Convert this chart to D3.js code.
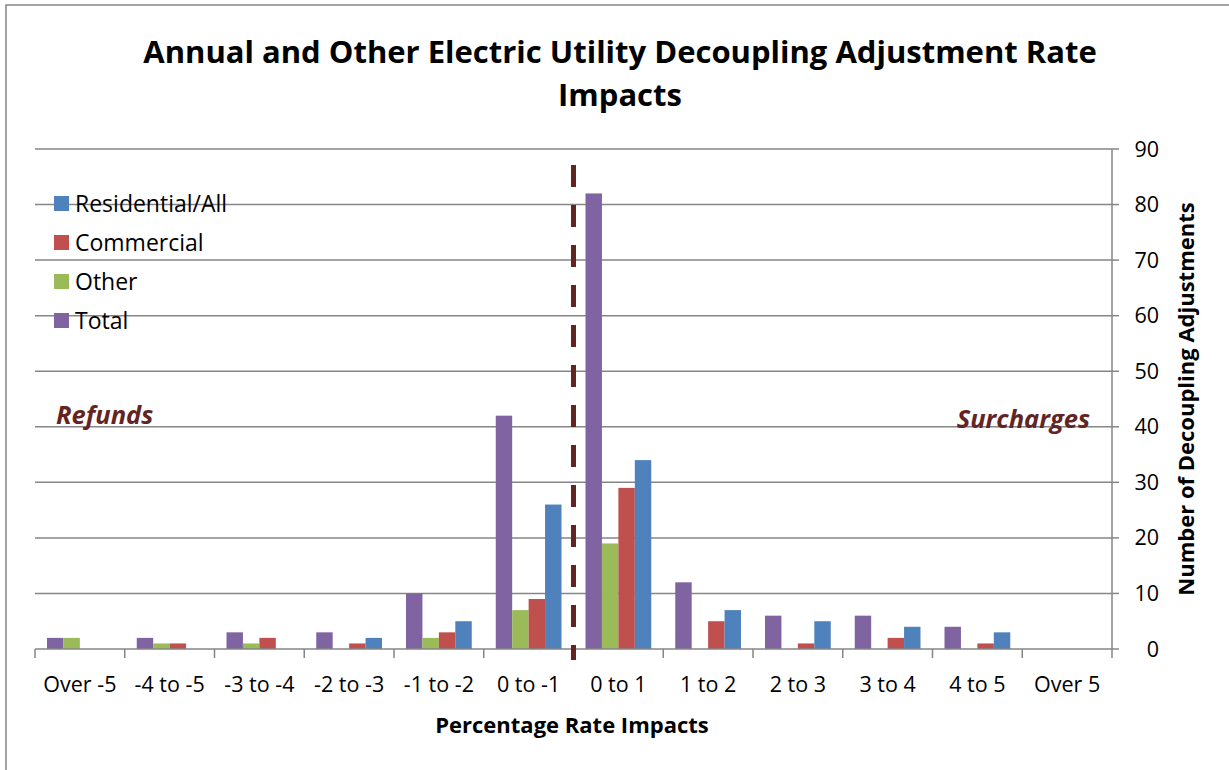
<!DOCTYPE html>
<html><head><meta charset="utf-8">
<script src="https://cdn.jsdelivr.net/npm/d3@7"></script>
<style>body{margin:0;background:#fff}svg{display:block}</style>
</head><body>
<script>
const categories = ["Over -5","-4 to -5","-3 to -4","-2 to -3","-1 to -2","0 to -1","0 to 1","1 to 2","2 to 3","3 to 4","4 to 5","Over 5"];
const totalVals = [2,2,3,3,10,42,82,12,6,6,4,0];
const otherVals = [2,1,1,0,2,7,19,0,0,0,0,0];
const commercialVals = [0,1,2,1,3,9,29,5,1,2,1,0];
const residentialVals = [0,0,0,2,5,26,34,7,5,4,3,0];
const yTicks = [0,10,20,30,40,50,60,70,80,90];
const legendNames = ["Residential/All","Commercial","Other","Total"];

const series = [
  {name:"Total", vals: totalVals, color:"#8064A2"},
  {name:"Other", vals: otherVals, color:"#9BBB59"},
  {name:"Commercial", vals: commercialVals, color:"#C0504D"},
  {name:"Residential/All", vals: residentialVals, color:"#4F81BD"}
];
const colorOf = {"Residential/All":"#4F81BD","Commercial":"#C0504D","Other":"#9BBB59","Total":"#8064A2"};

const W=1229,H=770;
const svg=d3.select("body").append("svg").attr("width",W).attr("height",H);
const font="'Open Sans', 'DejaVu Sans', sans-serif";
svg.append("rect").attr("x",6).attr("y",5).attr("width",W+10).attr("height",H+10).attr("fill","#fff").attr("stroke","#868686").attr("stroke-width",1.5);

const L=35,R=1112,T=149,B=649;
const x=d3.scaleBand().domain(categories).range([L,R]).paddingInner(0).paddingOuter(0);
const y=d3.scaleLinear().domain([0,90]).range([B,T]);
const inner=d3.scaleBand().domain(series.map(s=>s.name)).range([0,x.bandwidth()]).paddingOuter(0.73).paddingInner(0);

// gridlines
svg.append("g").selectAll("line").data(yTicks.filter(d=>d>0)).join("line")
  .attr("x1",L).attr("x2",R).attr("y1",d=>y(d)).attr("y2",d=>y(d))
  .attr("stroke","#868686").attr("stroke-width",1.5);

// bars
series.forEach(s=>{
  svg.append("g").selectAll("rect").data(categories).join("rect")
    .attr("x",(c)=>x(c)+inner(s.name))
    .attr("width",inner.bandwidth())
    .attr("y",(c,i)=>y(s.vals[i]))
    .attr("height",(c,i)=>B-y(s.vals[i]))
    .attr("fill",s.color);
});

// x axis
const xAxis=svg.append("g").attr("transform",`translate(0,${B})`);
xAxis.append("line").attr("x1",L).attr("x2",R).attr("stroke","#868686").attr("stroke-width",1.5);
const edges=categories.map(c=>x(c)).concat([R]);
xAxis.selectAll("line.t").data(edges).join("line").attr("class","t")
  .attr("x1",d=>d).attr("x2",d=>d).attr("y1",0).attr("y2",9).attr("stroke","#868686").attr("stroke-width",1.5);
xAxis.selectAll("text").data(categories).join("text")
  .attr("x",c=>x(c)+x.bandwidth()/2).attr("y",43)
  .attr("text-anchor","middle").attr("font-family",font).attr("font-size",21.5).attr("fill","#000").text(c=>c);

// right y axis
const yAxis=svg.append("g").attr("transform",`translate(${R},0)`);
yAxis.append("line").attr("y1",T).attr("y2",B).attr("stroke","#868686").attr("stroke-width",1.5);
yAxis.selectAll("line.t").data(yTicks).join("line").attr("class","t")
  .attr("x1",0).attr("x2",7).attr("y1",d=>y(d)).attr("y2",d=>y(d)).attr("stroke","#868686").attr("stroke-width",1.5);
yAxis.selectAll("text").data(yTicks).join("text")
  .attr("x",47).attr("y",d=>y(d)+7.5).attr("text-anchor","end")
  .attr("font-family",font).attr("font-size",21.5).attr("fill","#000").text(d=>d);

// dashed divider
const midX=(x("0 to -1")+x.bandwidth()+x("0 to 1"))/2;
svg.append("line").attr("x1",midX).attr("x2",midX).attr("y1",165).attr("y2",660)
  .attr("stroke","#632523").attr("stroke-width",5).attr("stroke-dasharray","22,18");

// titles
const title=svg.append("text").attr("text-anchor","middle").attr("font-family",font).attr("font-weight","bold").attr("font-size",31).attr("fill","#000");
title.append("tspan").attr("x",620).attr("y",63).text("Annual and Other Electric Utility Decoupling Adjustment Rate");
title.append("tspan").attr("x",620).attr("y",106).text("Impacts");

svg.append("text").attr("x",572).attr("y",733).attr("text-anchor","middle").attr("font-family",font).attr("font-weight","bold").attr("font-size",22).text("Percentage Rate Impacts");
svg.append("text").attr("transform","translate(1194,399) rotate(-90)").attr("text-anchor","middle").attr("font-family",font).attr("font-weight","bold").attr("font-size",22).text("Number of Decoupling Adjustments");

// annotations
svg.append("text").attr("x",56).attr("y",424).attr("font-family",font).attr("font-weight","bold").attr("font-style","italic").attr("font-size",25.5).attr("fill","#632523").text("Refunds");
svg.append("text").attr("x",1090).attr("y",428).attr("text-anchor","end").attr("font-family",font).attr("font-weight","bold").attr("font-style","italic").attr("font-size",25.5).attr("fill","#632523").text("Surcharges");

// legend
const lg=svg.append("g").selectAll("g").data(legendNames).join("g").attr("transform",(d,i)=>`translate(54,${203+i*39})`);
lg.append("rect").attr("x",0).attr("y",-7).attr("width",15).attr("height",15).attr("fill",d=>colorOf[d]);
lg.append("text").attr("x",21).attr("y",8.5).attr("font-family",font).attr("font-size",23).attr("fill","#000").text(d=>d);
</script>
</body></html>
